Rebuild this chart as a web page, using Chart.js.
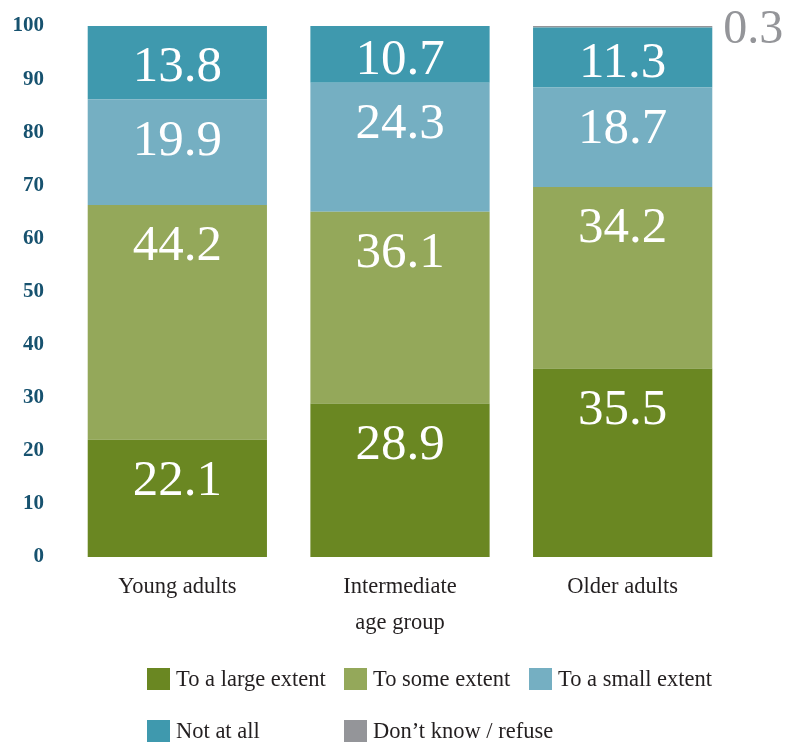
<!DOCTYPE html>
<html lang="en">
<head>
    <meta charset="UTF-8">
    <title>Extent by age group</title>
    <script src="https://cdn.jsdelivr.net/npm/chart.js"></script>
    <style>
        body { margin: 0; background: #fff; }
        #wrap { position: relative; width: 794px; height: 744px; }
        #chart { position: absolute; left: 0; top: 0; }
        #legend {
            position: absolute; left: 147px; top: 664px;
            display: grid; grid-template-columns: 197px 185px 200px;
            row-gap: 22px;
            font-family: "Liberation Serif", serif; font-size: 22.5px; color: #231f20;
        }
        .item { display: flex; align-items: center; height: 30px; white-space: nowrap; }
        .swatch { width: 23px; height: 22px; margin-right: 6px; flex: none; }
    </style>
</head>
<body>
<div id="wrap">
    <canvas id="chart" width="794" height="744"></canvas>
    <div id="legend"></div>
</div>
<script>
    const groups = [['Young adults'], ['Intermediate', 'age group'], ['Older adults']];
    const series = ['To a large extent', 'To some extent', 'To a small extent', 'Not at all', 'Don\u2019t know / refuse'];
    const colors = ['#6a8722', '#94a85a', '#75afc2', '#3f99ae', '#949599'];

    const largeExtent = [22.1, 28.9, 35.5];
    const someExtent  = [44.2, 36.1, 34.2];
    const smallExtent = [19.9, 24.3, 18.7];
    const notAtAll    = [13.8, 10.7, 11.3];
    const dontKnow    = [null, null, 0.3];

    const values = [largeExtent, someExtent, smallExtent, notAtAll, dontKnow];
    const yTicks = [0, 10, 20, 30, 40, 50, 60, 70, 80, 90, 100];

    // value labels: white inside the segments, grey beside the thin top cap
    const segmentLabels = {
        id: 'segmentLabels',
        afterDatasetsDraw(chart) {
            const ctx = chart.ctx;
            ctx.save();
            ctx.textBaseline = 'middle';
            chart.data.datasets.forEach((ds, di) => {
                chart.getDatasetMeta(di).data.forEach((bar, i) => {
                    const v = ds.data[i];
                    if (v == null) return;
                    const p = bar.getProps(['x', 'y', 'base', 'width'], true);
                    const top = Math.min(p.y, p.base), bottom = Math.max(p.y, p.base);
                    if (di === 4) {
                        ctx.fillStyle = '#949599';
                        ctx.font = '48px "Liberation Serif", serif';
                        ctx.textAlign = 'left';
                        ctx.fillText(v.toFixed(1), p.x + p.width / 2 + 11, top + 4);
                    } else {
                        ctx.fillStyle = '#ffffff';
                        ctx.font = '51px "Liberation Serif", serif';
                        ctx.textAlign = 'center';
                        // near the top of tall segments, centred in short ones
                        const y = Math.min(top + 42, (top + bottom) / 2 + 6);
                        ctx.fillText(v.toFixed(1), p.x, y);
                    }
                });
            });
            ctx.restore();
        }
    };

    new Chart(document.getElementById('chart'), {
        type: 'bar',
        data: {
            labels: groups,
            datasets: series.map((name, i) => ({
                label: name,
                data: values[i],
                backgroundColor: colors[i],
                borderWidth: 0,
                barPercentage: 0.805,
                categoryPercentage: 1
            }))
        },
        options: {
            responsive: false,
            animation: false,
            layout: { padding: { top: 26, right: 60, bottom: 105, left: 0 } },
            plugins: { legend: { display: false }, tooltip: { enabled: false } },
            scales: {
                x: {
                    stacked: true,
                    grid: { display: false, drawTicks: false },
                    border: { display: false },
                    ticks: {
                        padding: 12,
                        color: '#231f20',
                        font: { family: '"Liberation Serif", serif', size: 22.5, lineHeight: 1.6 }
                    },
                    afterFit(s) { s.height = 82; }
                },
                y: {
                    stacked: true,
                    min: 0,
                    max: 100,
                    afterBuildTicks(s) { s.ticks = yTicks.map(v => ({ value: v })); },
                    grid: { display: false, drawTicks: false },
                    border: { display: false },
                    ticks: {
                        padding: 22,
                        color: '#17526f',
                        font: { family: '"Liberation Serif", serif', size: 21, weight: 'bold' }
                    },
                    afterFit(s) {
                        s.width = 66;
                        s.paddingTop = 0;
                        s.paddingBottom = 0;
                    }
                }
            }
        },
        plugins: [segmentLabels]
    });

    // legend rows: three entries, then two underneath
    const legend = document.getElementById('legend');
    series.forEach((name, i) => {
        const item = document.createElement('div');
        item.className = 'item';
        item.innerHTML = '<span class="swatch" style="background:' + colors[i] + '"></span>' + name;
        legend.appendChild(item);
    });
</script>
</body>
</html>
